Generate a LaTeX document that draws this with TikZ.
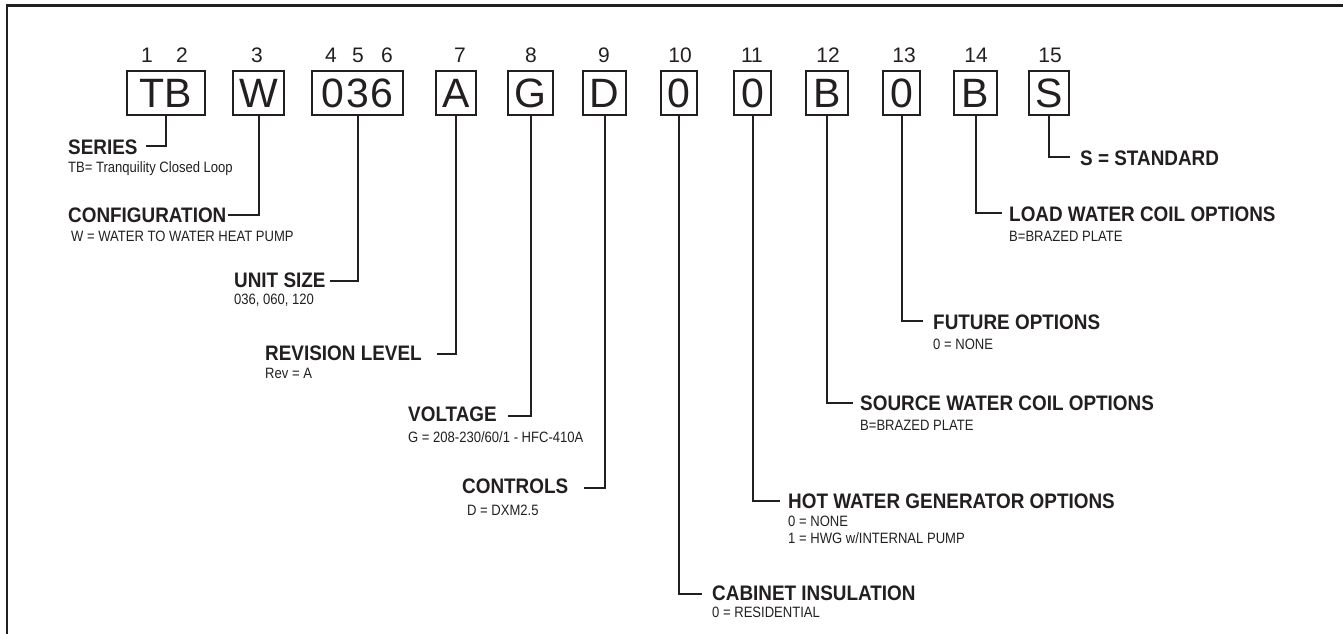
\documentclass[tikz,border=0pt]{standalone}
\usepackage{fontspec}
\setmainfont{Liberation Sans}
\newfontfamily\labfont[FakeStretch=0.9]{Liberation Sans}
\newfontfamily\subfont[FakeStretch=0.87]{Liberation Sans}
\definecolor{ink}{HTML}{231F20}
\begin{document}
\begin{tikzpicture}[x=1pt,y=-1pt,
  box/.style={draw=ink, line width=2pt, inner sep=0pt, minimum height=44pt,
    font=\fontsize{41}{44}\selectfont, text=ink},
  num/.style={anchor=base, inner sep=0pt, font=\fontsize{21}{24}\selectfont, text=ink},
  lab/.style={anchor=base west, inner sep=0pt,
    font=\labfont\bfseries\fontsize{21}{24}\selectfont, text=ink},
  sub/.style={anchor=base west, inner sep=0pt,
    font=\subfont\fontsize{15}{18}\selectfont, text=ink},
  conn/.style={draw=ink, line width=2pt},
  frame/.style={draw=ink, line width=2.6pt}]
\useasboundingbox (0,0) rectangle (1343,633);
% frame
\coordinate (fr1) at (1350,5.3);
\coordinate (fr2) at (7,5.3);
\coordinate (fr3) at (7,640);
\draw[frame] (fr1) -- (fr2) -- (fr3);

% boxes
\node[box, minimum width=78pt] (b1) at (166,93) {TB};
\node[box, minimum width=51pt] (b3) at (258.5,93) {W};
\node[box, minimum width=91pt] (b4) at (357.5,93) {0\kern2pt3\kern2pt6};
\node[box, minimum width=40pt] (b7) at (456,93) {A};
\node[box, minimum width=45pt] (b8) at (530.5,93) {G};
\node[box, minimum width=43pt] (b9) at (604.5,93) {D};
\node[box, minimum width=36pt] (b10) at (679,93) {0};
\node[box, minimum width=37pt] (b11) at (752.5,93) {0};
\node[box, minimum width=42pt] (b12) at (827,93) {B};
\node[box, minimum width=37pt] (b13) at (901.5,93) {0};
\node[box, minimum width=43pt] (b14) at (975.5,93) {B};
\node[box, minimum width=40pt] (b15) at (1049,93) {S};

% position numbers
\node[num] (n1) at (147,62) {1};
\node[num] (n2) at (182,62) {2};
\node[num] (n3) at (257,62) {3};
\node[num] (n4) at (331,62) {4};
\node[num] (n5) at (358,62) {5};
\node[num] (n6) at (387,62) {6};
\node[num] (n7) at (460,62) {7};
\node[num] (n8) at (531,62) {8};
\node[num] (n9) at (604,62) {9};
\node[num] (n10) at (680,62) {10};
\node[num] (n11) at (752,62) {11};
\node[num] (n12) at (828,62) {12};
\node[num] (n13) at (904,62) {13};
\node[num] (n14) at (976,62) {14};
\node[num] (n15) at (1050,62) {15};

% labels (left side)
\node[lab] (l1) at (68,154) {SERIES};
\node[sub] (s1) at (68,172) {TB= Tranquility Closed Loop};
\node[lab] (l3) at (68,222) {CONFIGURATION};
\node[sub] (s3) at (71,241) {W = WATER TO WATER HEAT PUMP};
\node[lab] (l4) at (234,287) {UNIT SIZE};
\node[sub] (s4) at (234,304) {036, 060, 120};
\node[lab] (l7) at (265,360) {REVISION LEVEL};
\node[sub] (s7) at (265,378) {Rev = A};
\node[lab] (l8) at (408,421) {VOLTAGE};
\node[sub] (s8) at (408,442) {G = 208-230/60/1 - HFC-410A};
\node[lab] (l9) at (462,493) {CONTROLS};
\node[sub] (s9) at (467,515) {D = DXM2.5};

% labels (right side)
\node[lab] (l10) at (712,600) {CABINET INSULATION};
\node[sub] (s10) at (712,617) {0 = RESIDENTIAL};
\node[lab] (l11) at (788,508) {HOT WATER GENERATOR OPTIONS};
\node[sub] (s11a) at (788,526) {0 = NONE};
\node[sub] (s11b) at (788,543) {1 = HWG w/INTERNAL PUMP};
\node[lab] (l12) at (860,410) {SOURCE WATER COIL OPTIONS};
\node[sub] (s12) at (860,430) {B=BRAZED PLATE};
\node[lab] (l13) at (933,329) {FUTURE OPTIONS};
\node[sub] (s13) at (933,349) {0 = NONE};
\node[lab] (l14) at (1009,221) {LOAD WATER COIL OPTIONS};
\node[sub] (s14) at (1009,241) {B=BRAZED PLATE};
\node[lab] (l15) at (1080,165) {S = STANDARD};

% connector ends
\coordinate (e1) at (146,146);
\coordinate (e3) at (228,215);
\coordinate (e4) at (330,281);
\coordinate (e7) at (437,354);
\coordinate (e8) at (508,416);
\coordinate (e9) at (584,488);
\coordinate (e10) at (702,594);
\coordinate (e11) at (780,501);
\coordinate (e12) at (853,403);
\coordinate (e13) at (923,321);
\coordinate (e14) at (1002,213);
\coordinate (e15) at (1070,157);

\draw[conn] (b1.south) |- (e1);
\draw[conn] (b3.south) |- (e3);
\draw[conn] (b4.south) |- (e4);
\draw[conn] (b7.south) |- (e7);
\draw[conn] (b8.south) |- (e8);
\draw[conn] (b9.south) |- (e9);
\draw[conn] (b10.south) |- (e10);
\draw[conn] (b11.south) |- (e11);
\draw[conn] (b12.south) |- (e12);
\draw[conn] (b13.south) |- (e13);
\draw[conn] (b14.south) |- (e14);
\draw[conn] (b15.south) |- (e15);
\end{tikzpicture}
\end{document}
